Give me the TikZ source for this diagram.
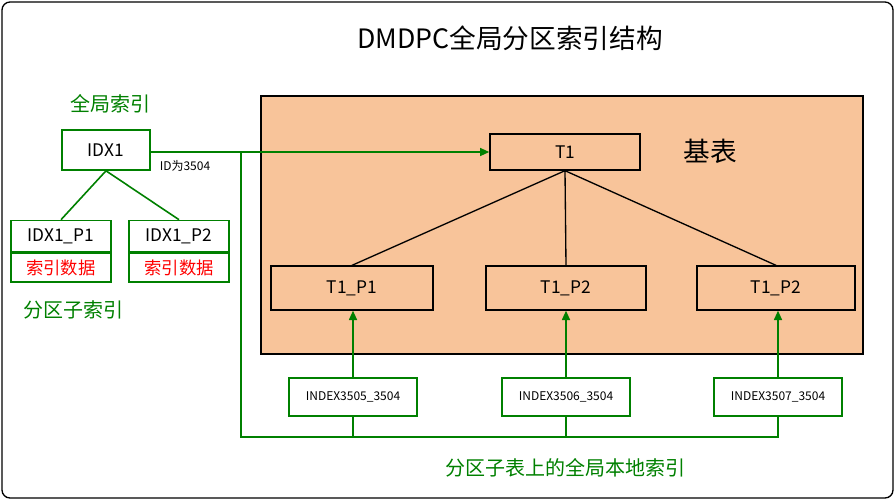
\documentclass[tikz,border=0pt]{standalone}
\usepackage{fontspec}
\setmainfont{Noto Sans CJK SC}
\usetikzlibrary{arrows.meta}
\definecolor{gr}{RGB}{0,128,0}
\definecolor{base}{RGB}{248,196,154}
\begin{document}
\begin{tikzpicture}[x=0.75pt,y=-0.75pt,
  bbox/.style={draw=black,line width=1pt,fill=base,font=\fontsize{13}{15}\selectfont},
  gbox/.style={draw=gr,line width=1.2pt,fill=white},
  gline/.style={draw=gr,line width=1.2pt},
  garrow/.style={gline,-{Triangle[length=7pt,width=6pt]}},
  glab/.style={text=gr,font=\fontsize{15}{18}\selectfont}]
\useasboundingbox (0,0) rectangle (896,501);
\draw[line width=1pt,rounded corners=6pt] (2,2) rectangle (893,498);
\node (title) at (510,38) {\fontsize{20}{24}\selectfont DMDPC全局分区索引结构};
\draw[line width=1pt,fill=base] (261,96) rectangle (863,354);
\node[bbox,minimum width=150*0.75pt,minimum height=36*0.75pt] (t1) at (565,152) {T1};
\node (jb) at (710,151) {\fontsize{20}{24}\selectfont 基表};
\node[bbox,minimum width=162*0.75pt,minimum height=44*0.75pt] (p1) at (352,288) {T1\_P1};
\node[bbox,minimum width=160*0.75pt,minimum height=44*0.75pt] (p2) at (566,288) {T1\_P2};
\node[bbox,minimum width=158*0.75pt,minimum height=44*0.75pt] (p3) at (776,288) {T1\_P2};
\draw[line width=1pt] (t1.south) -- (p1.north) (t1.south) -- (p2.north) (t1.south) -- (p3.north);
\foreach \n/\x/\t in {i1/353/INDEX3505\_3504, i2/566/INDEX3506\_3504, i3/778/INDEX3507\_3504}{
  \node[gbox,minimum width=128*0.75pt,minimum height=38*0.75pt,font=\fontsize{9}{11}\selectfont] (\n) at (\x,397) {\t};
}
\draw[garrow] (i1.north) -- (p1.south -| i1.north);
\draw[garrow] (i2.north) -- (p2.south -| i2.north);
\draw[garrow] (i3.north) -- (p3.south -| i3.north);
\node[gbox,minimum width=88*0.75pt,minimum height=40*0.75pt,font=\fontsize{13}{15}\selectfont] (idx) at (106,150) {IDX1};
\coordinate (c1) at (241,152);
\coordinate (c2) at (241,437);
\draw[garrow] (idx.east |- c1) -- (t1.west |- c1);
\draw[gline] (c1) -- (c2) -- (i3.south |- c2) -- (i3.south);
\draw[gline] (i1.south) -- (i1.south |- c2);
\draw[gline] (i2.south) -- (i2.south |- c2);
\node[font=\fontsize{9}{11}\selectfont] (idl) at (185,166) {ID为3504};
\node[glab] (gl) at (110,104) {全局索引};
\foreach \n/\x/\t in {a/61/IDX1\_P1, b/179/IDX1\_P2}{
  \node[gbox,minimum width=100*0.75pt,minimum height=31*0.75pt,font=\fontsize{13}{15}\selectfont] (\n) at (\x,236) {\t};
  \node[gbox,minimum width=100*0.75pt,minimum height=29*0.75pt,text=red,font=\fontsize{13}{15}\selectfont,anchor=north] (\n d) at (\n.south) {索引数据};
}
\draw[gline] (idx.south) -- (a.north) (idx.south) -- (b.north);
\node[glab] (sl) at (73,310) {分区子索引};
\node[glab] (bl) at (565,468) {分区子表上的全局本地索引};
\end{tikzpicture}
\end{document}
